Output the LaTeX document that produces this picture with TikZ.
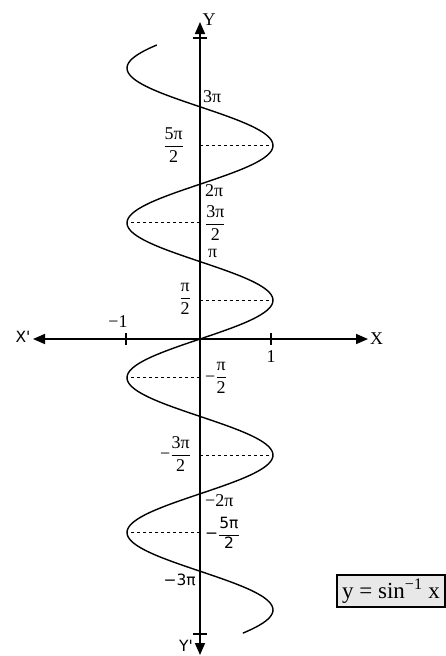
\documentclass[tikz,border=0pt]{standalone}
\usepackage{amsmath}
\usepackage{fontspec}
\setmainfont{Liberation Serif}
\newfontfamily\sansfam{DejaVu Sans}
\usetikzlibrary{arrows.meta}
\newcommand\myfr[2]{$\dfrac{\text{#1}}{\text{#2}}$}
\begin{document}
\begin{tikzpicture}[x=1pt,y=-1pt,
  axisline/.style={line width=1.6pt},
  curveline/.style={line width=1.4pt},
  guide/.style={line width=1.1pt, dash pattern=on 3pt off 3pt},
  tip/.style={-{Triangle[length=12pt,width=10pt]}},
  lbl/.style={inner sep=0pt, font=\fontsize{18}{20}\selectfont},
  slbl/.style={inner sep=0pt, font=\fontsize{15.5}{17}\selectfont\sansfam},
  keybox/.style={draw, line width=1.2pt, fill=gray!18, minimum width=108pt, minimum height=32pt, inner sep=0pt, font=\fontsize{23}{25}\selectfont}]
\useasboundingbox (0,0) rectangle (446,656);
% axes
\coordinate (O) at (200,339);
\coordinate (xl) at (33,339);
\coordinate (xr) at (368,339);
\coordinate (yt) at (200,22);
\coordinate (yb) at (200,655);
\draw[axisline,tip] (O) -- (xr);
\draw[axisline,tip] (O) -- (xl);
\draw[axisline,tip] (O) -- (yt);
\draw[axisline,tip] (O) -- (yb);
% cross bars on y axis
\coordinate (ct1) at (193,38); \coordinate (ct2) at (207,38);
\coordinate (cb1) at (193,634); \coordinate (cb2) at (207,634);
\draw[axisline] (ct1) -- (ct2);
\draw[axisline] (cb1) -- (cb2);
% ticks on x axis
\coordinate (p1a) at (271,333); \coordinate (p1b) at (271,345);
\coordinate (m1a) at (126,333); \coordinate (m1b) at (126,345);
\draw[axisline] (p1a) -- (p1b);
\draw[axisline] (m1a) -- (m1b);
% axis labels
\node[lbl,anchor=west] (X) at (370,339) {X};
\node[slbl] (Xp) at (23,337) {X'};
\node[lbl] (Y) at (209,20) {Y};
\node[slbl] (Yp) at (186,646) {Y'};
% curve
\draw[curveline] plot[domain=-7.6:7.6, samples=300, smooth, variable=\u] ({200+73*sin(90*\u)}, {339-38.7*\u});
% peaks and dashed guides
\foreach \u/\s in {1/1,3/-1,5/1,-1/-1,-3/1,-5/-1}{
  \coordinate (a\u) at (200,{339-38.7*\u});
  \coordinate (k\u) at ({200+73*\s},{339-38.7*\u});
  \draw[guide] (a\u) -- (k\u);
}
% labels
\node[lbl] (one) at (271,357) {1};
\node[lbl] (mone) at (118,322) {−1};
\node[lbl,anchor=west] (l3pi) at (203,97) {3π};
\node[lbl,anchor=east] (l5pi2) at (184,145) {\myfr{5π}{2}};
\node[lbl,anchor=west] (l2pi) at (205,191) {2π};
\node[lbl,anchor=west] (l3pi2) at (205,223) {\myfr{3π}{2}};
\node[lbl,anchor=west] (lpi) at (208,253) {π};
\node[lbl,anchor=east] (lpi2) at (191,299) {\myfr{π}{2}};
\node[lbl,anchor=west] (lmpi2) at (205,378) {−\myfr{π}{2}};
\node[lbl,anchor=east] (lm3pi2) at (191,454) {−\myfr{3π}{2}};
\node[lbl,anchor=west] (lm2pi) at (205,501) {−2π};
\node[slbl,anchor=west] (lm5pi2) at (205,533) {−$\dfrac{\text{5π}}{\text{2}}$};
\node[slbl,anchor=east] (lm3pi) at (196,580) {−3π};
% key box
\node[keybox] (key) at (391,591) {y = sin\textsuperscript{−1} x};
\end{tikzpicture}
\end{document}
